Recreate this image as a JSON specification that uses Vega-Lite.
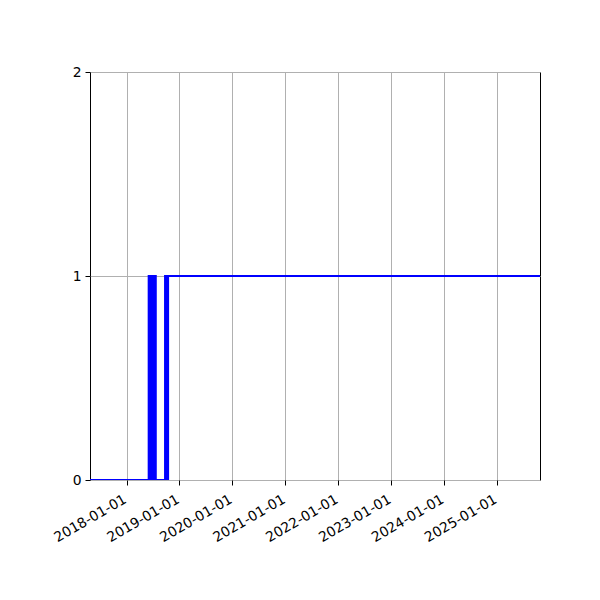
{
  "$schema": "https://vega.github.io/schema/vega-lite/v6.json",
  "width": 450,
  "height": 408,
  "autosize": {"type": "none"},
  "padding": {"left": 90, "top": 72, "right": 60, "bottom": 120},
  "background": "white",
  "config": {
    "font": "DejaVu Sans",
    "view": {"stroke": "black", "strokeWidth": 1},
    "axis": {
      "labelFontSize": 13.9,
      "labelColor": "black",
      "tickColor": "black",
      "tickSize": 5,
      "domain": false,
      "gridColor": "#b0b0b0",
      "gridWidth": 1,
      "title": null
    }
  },
  "data": {
    "values": [
      {"date": "2017-04-24", "state": 0},
      {"date": "2018-06-03", "state": 1},
      {"date": "2018-06-14", "state": 0},
      {"date": "2018-06-24", "state": 1},
      {"date": "2018-07-04", "state": 0},
      {"date": "2018-07-14", "state": 1},
      {"date": "2018-07-22", "state": 0},
      {"date": "2018-09-24", "state": 1},
      {"date": "2018-10-04", "state": 0},
      {"date": "2018-10-15", "state": 1},
      {"date": "2025-10-25", "state": 1}
    ]
  },
  "mark": {"type": "line", "interpolate": "step-after", "color": "blue", "strokeWidth": 2, "clip": true},
  "encoding": {
    "x": {
      "field": "date",
      "type": "temporal",
      "scale": {"type": "utc", "domain": [{"year": 2017, "month": 4, "date": 24, "utc": true}, {"year": 2025, "month": 10, "date": 25, "utc": true}]},
      "axis": {
        "values": [
          {"year": 2018, "month": 1, "date": 1, "utc": true},
          {"year": 2019, "month": 1, "date": 1, "utc": true},
          {"year": 2020, "month": 1, "date": 1, "utc": true},
          {"year": 2021, "month": 1, "date": 1, "utc": true},
          {"year": 2022, "month": 1, "date": 1, "utc": true},
          {"year": 2023, "month": 1, "date": 1, "utc": true},
          {"year": 2024, "month": 1, "date": 1, "utc": true},
          {"year": 2025, "month": 1, "date": 1, "utc": true}
        ],
        "labelExpr": "utcFormat(datum.value, '%Y-%m-%d')",
        "labelAngle": -30,
        "labelAlign": "right",
        "labelBaseline": "top",
        "labelPadding": 7,
        "labelOffset": -5,
        "labelFlush": false,
        "labelOverlap": false,
        "grid": true
      }
    },
    "y": {
      "field": "state",
      "type": "quantitative",
      "scale": {"domain": [0, 2]},
      "axis": {"values": [0, 1, 2], "labelExpr": "format(datum.value, 'd')", "labelOverlap": false, "grid": true, "labelPadding": 4}
    }
  }
}
